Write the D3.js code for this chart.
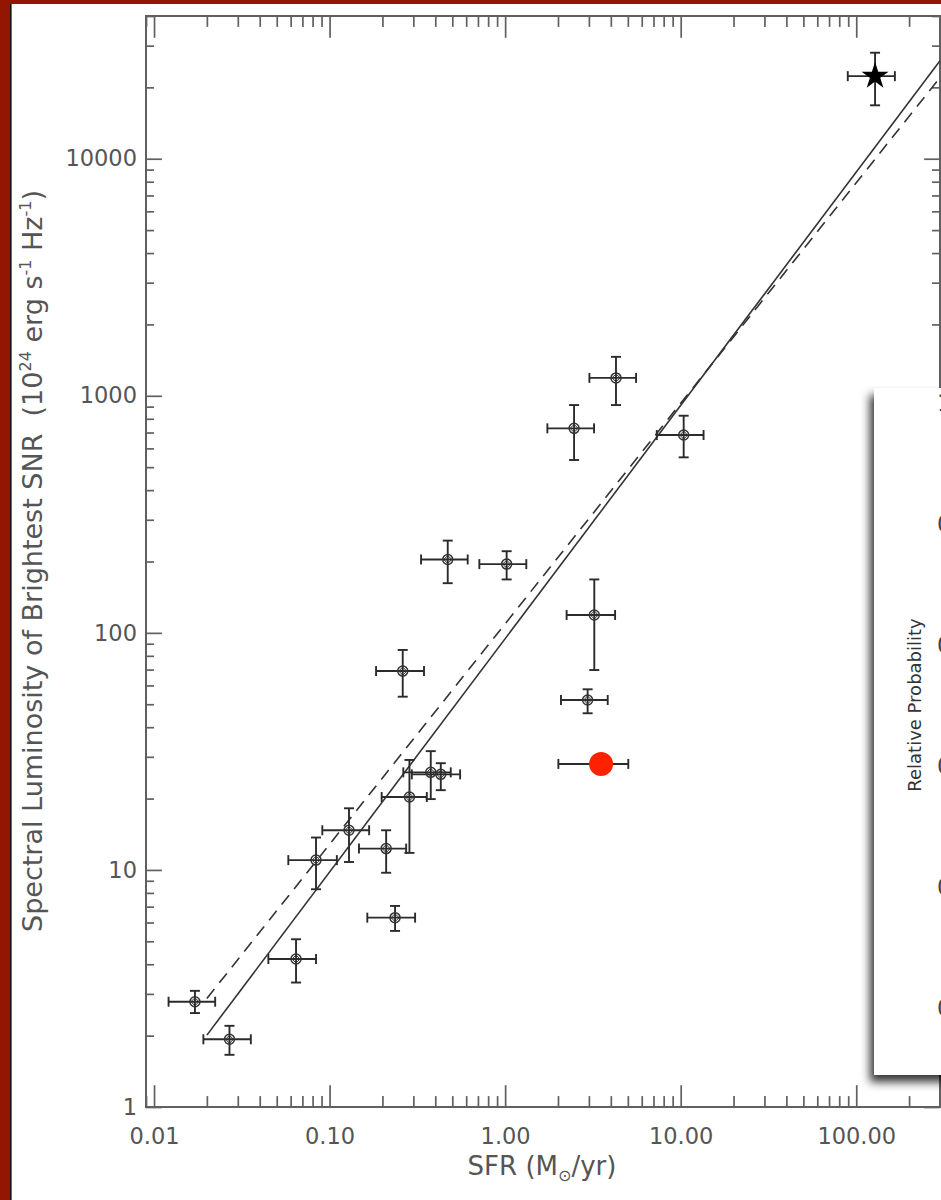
<!DOCTYPE html>
<html>
<head>
<meta charset="utf-8">
<script src="https://cdn.jsdelivr.net/npm/d3@7"></script>
<style>
  html, body { margin: 0; padding: 0; background: #fff; }
  svg { display: block; }
  text { font-family: "DejaVu Sans", sans-serif; }
</style>
</head>
<body>
<svg id="chart" width="941" height="1200"></svg>
<script>
// ---- Galaxies: star formation rate (Msun/yr) and brightest-SNR luminosity (1e24 erg/s/Hz)
const sfr    = [0.0171, 0.0269, 0.0644, 0.236, 0.0837, 0.129, 0.210, 0.285, 0.377, 0.430, 0.261, 0.471, 1.02, 3.22, 2.95, 4.28, 2.47, 10.4];
const sfrLo  = [0.0121, 0.0191, 0.0448, 0.164, 0.0582, 0.0909, 0.147, 0.198, 0.263, 0.294, 0.184, 0.332, 0.713, 2.24, 2.08, 3.02, 1.74, 7.31];
const sfrHi  = [0.0223, 0.0356, 0.0837, 0.307, 0.110, 0.168, 0.273, 0.358, 0.490, 0.554, 0.345, 0.612, 1.32, 4.23, 3.84, 5.57, 3.21, 13.5];
const lum    = [2.78, 1.93, 4.21, 6.29, 11.0, 14.7, 12.3, 20.3, 25.8, 25.3, 69.0, 204, 195, 119, 52.1, 1190, 729, 683];
const lumLo  = [2.49, 1.66, 3.35, 5.53, 8.29, 10.8, 9.73, 11.8, 19.9, 21.7, 53.8, 162, 168, 69.7, 45.8, 914, 536, 550];
const lumHi  = [3.09, 2.20, 5.10, 7.05, 13.7, 18.2, 14.7, 29.1, 31.7, 28.2, 84.7, 245, 221, 168, 57.8, 1460, 914, 824];

// ---- Starburst (star symbol)
const starSfr = [128],   starSfrLo = [89.5], starSfrHi = [166];
const starLum = [22300], starLumLo = [16800], starLumHi = [28000];

// ---- Highlighted galaxy (red disc, SFR error only)
const redSfr = [3.52], redSfrLo = [2.01], redSfrHi = [5.03];
const redLum = [28];

// ---- Power-law fits (end points on log-log axes)
const fitSfr    = [0.02, 300];
const fitLum    = [2.01, 25900];   // solid
const altFitLum = [2.87, 22000];   // dashed

// ---- Axis ticks
const xMajor  = [0.01, 0.1, 1, 10, 100];
const xLabels = ["0.01", "0.10", "1.00", "10.00", "100.00"];
const yMajor  = [1, 10, 100, 1000, 10000];
const yLabels = ["1", "10", "100", "1000", "10000"];

// ---- Inset panel axis labels (partly outside the page)
const insetTicks  = [0.0, 0.2, 0.4, 0.6, 0.8, 1.0];
const insetLabels = ["0.0", "0.2", "0.4", "0.6", "0.8", "1.0"];

const svg = d3.select("#chart");
const W = 941, H = 1200;
const plot = { left: 146, right: 940, top: 16, bottom: 1107 };

const x = d3.scaleLog().domain([0.009, 300]).range([plot.left, plot.right]);
const y = d3.scaleLog().domain([1, 40000]).range([plot.bottom, plot.top]);

// page frame
svg.append("rect").attr("width", W).attr("height", H).attr("fill", "#fff");
svg.append("rect").attr("x", 0).attr("y", 0).attr("width", 10).attr("height", H).attr("fill", "#931600");
svg.append("rect").attr("x", 0).attr("y", 0).attr("width", W).attr("height", 4).attr("fill", "#931600");
svg.append("rect").attr("x", 10).attr("y", 4).attr("width", 1.6).attr("height", H - 4).attr("fill", "#111");

// ---- axes
const axisColor = "#606060";
const labelColor = "#555";
const xMinor = x.ticks().filter(v => !xMajor.some(m => Math.abs(m - v) / m < 1e-6));
const yMinor = y.ticks().filter(v => !yMajor.some(m => Math.abs(m - v) / m < 1e-6));

const xMajLen = 21.8, xMinLen = 10.9, yMajLen = 15.9, yMinLen = 8;

function styleAxis(g) {
  g.select(".domain").remove();
  g.selectAll(".tick line").attr("stroke", axisColor).attr("stroke-width", 1.7);
  g.selectAll(".tick text").attr("fill", labelColor).style("font-size", "22.5px");
}

// bottom
svg.append("g").attr("transform", `translate(0,${plot.bottom})`)
  .call(d3.axisBottom(x).tickValues(xMinor).tickSizeInner(-xMinLen).tickSizeOuter(0).tickFormat(""))
  .call(styleAxis);
svg.append("g").attr("transform", `translate(0,${plot.bottom})`)
  .call(d3.axisBottom(x).tickValues(xMajor).tickSizeInner(-xMajLen).tickSizeOuter(0)
        .tickPadding(21).tickFormat((d, i) => xLabels[i]))
  .call(styleAxis);
// top
svg.append("g").attr("transform", `translate(0,${plot.top})`)
  .call(d3.axisTop(x).tickValues(xMinor).tickSizeInner(-xMinLen).tickSizeOuter(0).tickFormat(""))
  .call(styleAxis);
svg.append("g").attr("transform", `translate(0,${plot.top})`)
  .call(d3.axisTop(x).tickValues(xMajor).tickSizeInner(-xMajLen).tickSizeOuter(0).tickFormat(""))
  .call(styleAxis);
// left
svg.append("g").attr("transform", `translate(${plot.left},0)`)
  .call(d3.axisLeft(y).tickValues(yMinor).tickSizeInner(-yMinLen).tickSizeOuter(0).tickFormat(""))
  .call(styleAxis);
svg.append("g").attr("transform", `translate(${plot.left},0)`)
  .call(d3.axisLeft(y).tickValues(yMajor).tickSizeInner(-yMajLen).tickSizeOuter(0)
        .tickPadding(9).tickFormat((d, i) => yLabels[i]))
  .call(styleAxis);
// right
svg.append("g").attr("transform", `translate(${plot.right},0)`)
  .call(d3.axisRight(y).tickValues(yMinor).tickSizeInner(-yMinLen).tickSizeOuter(0).tickFormat(""))
  .call(styleAxis);
svg.append("g").attr("transform", `translate(${plot.right},0)`)
  .call(d3.axisRight(y).tickValues(yMajor).tickSizeInner(-yMajLen).tickSizeOuter(0).tickFormat(""))
  .call(styleAxis);

// plot box
svg.append("rect")
  .attr("x", plot.left).attr("y", plot.top)
  .attr("width", plot.right - plot.left).attr("height", plot.bottom - plot.top)
  .attr("fill", "none").attr("stroke", axisColor).attr("stroke-width", 2);

// ---- axis titles
svg.append("text")
  .attr("x", 542).attr("y", 1175)
  .attr("text-anchor", "middle").attr("fill", labelColor).style("font-size", "26px")
  .call(t => {
    t.append("tspan").text("SFR (M");
    t.append("tspan").attr("dy", 6).style("font-size", "16px").text("\u2299");
    t.append("tspan").attr("dy", -6).text("/yr)");
  });

svg.append("text")
  .attr("transform", "translate(42,561) rotate(-90)")
  .attr("text-anchor", "middle").attr("fill", labelColor).style("font-size", "27px")
  .attr("xml:space", "preserve")
  .call(t => {
    t.append("tspan").text("Spectral Luminosity of Brightest SNR  (10");
    t.append("tspan").attr("dy", -11).style("font-size", "16px").text("24");
    t.append("tspan").attr("dy", 11).text(" erg s");
    t.append("tspan").attr("dy", -11).style("font-size", "16px").text("-1");
    t.append("tspan").attr("dy", 11).text(" Hz");
    t.append("tspan").attr("dy", -11).style("font-size", "16px").text("-1");
    t.append("tspan").attr("dy", 11).text(")");
  });

// ---- fit lines
const lineGen = d3.line().x(d => x(d[0])).y(d => y(d[1]));
svg.append("path")
  .attr("d", lineGen(fitSfr.map((s, i) => [s, fitLum[i]])))
  .attr("fill", "none").attr("stroke", "#333").attr("stroke-width", 1.6);
svg.append("path")
  .attr("d", lineGen(fitSfr.map((s, i) => [s, altFitLum[i]])))
  .attr("fill", "none").attr("stroke", "#333").attr("stroke-width", 1.6)
  .attr("stroke-dasharray", "12,8");

// ---- error bars
const barColor = "#2b2b2b", cap = 5;
function errorBars(g, xs, xl, xh, ys, yl, yh) {
  xs.forEach((s, i) => {
    const cx = x(s), cy = y(ys[i]);
    const x0 = x(xl[i]), x1 = x(xh[i]);
    g.append("line").attr("x1", x0).attr("x2", x1).attr("y1", cy).attr("y2", cy);
    g.append("line").attr("x1", x0).attr("x2", x0).attr("y1", cy - cap).attr("y2", cy + cap);
    g.append("line").attr("x1", x1).attr("x2", x1).attr("y1", cy - cap).attr("y2", cy + cap);
    if (yl && yh) {
      const y0 = y(yl[i]), y1 = y(yh[i]);
      g.append("line").attr("x1", cx).attr("x2", cx).attr("y1", y0).attr("y2", y1);
      g.append("line").attr("x1", cx - cap).attr("x2", cx + cap).attr("y1", y0).attr("y2", y0);
      g.append("line").attr("x1", cx - cap).attr("x2", cx + cap).attr("y1", y1).attr("y2", y1);
    }
  });
}
const eb = svg.append("g").attr("stroke", barColor).attr("stroke-width", 1.9);
errorBars(eb, sfr, sfrLo, sfrHi, lum, lumLo, lumHi);
errorBars(eb, starSfr, starSfrLo, starSfrHi, starLum, starLumLo, starLumHi);
errorBars(eb, redSfr, redSfrLo, redSfrHi, redLum, null, null);

// ---- galaxy markers: open circle with inner diamond
const mk = svg.append("g").attr("fill", "none").attr("stroke", "#333").attr("stroke-width", 1.5);
sfr.forEach((s, i) => {
  const cx = x(s), cy = y(lum[i]);
  mk.append("circle").attr("cx", cx).attr("cy", cy).attr("r", 5);
  mk.append("path").attr("d", `M${cx},${cy - 4}L${cx + 4},${cy}L${cx},${cy + 4}L${cx - 4},${cy}Z`)
    .attr("stroke-width", 1);
});

// starburst star
svg.append("path")
  .attr("d", d3.symbol().type(d3.symbolStar).size(226)())
  .attr("transform", `translate(${x(starSfr[0])},${y(starLum[0])})`)
  .attr("fill", "#000");

// highlighted galaxy
svg.append("circle")
  .attr("cx", x(redSfr[0])).attr("cy", y(redLum[0])).attr("r", 12)
  .attr("fill", "#ff2200");

// ---- inset panel overlapping the right edge
const defs = svg.append("defs");
const f = defs.append("filter").attr("id", "panelShadow")
  .attr("x", "-20%").attr("y", "-10%").attr("width", "140%").attr("height", "130%");
f.append("feDropShadow").attr("dx", -4).attr("dy", 7).attr("stdDeviation", 5)
  .attr("flood-color", "#000").attr("flood-opacity", 0.8);

const inset = svg.append("g");
inset.append("rect")
  .attr("x", 874).attr("y", 388).attr("width", 140).attr("height", 687)
  .attr("fill", "#fff").attr("filter", "url(#panelShadow)");

inset.append("text")
  .attr("transform", "translate(915,705) rotate(-90)")
  .attr("text-anchor", "middle").attr("dy", "0.35em")
  .attr("fill", "#333").style("font-size", "18px")
  .text("Relative Probability");

const iy = d3.scaleLinear().domain([0, 1]).range([1008, 403]);
inset.selectAll("text.itick").data(insetTicks).join("text")
  .attr("class", "itick")
  .attr("x", 937).attr("y", d => iy(d)).attr("dy", "0.35em")
  .attr("fill", "#444").style("font-size", "22.5px")
  .text((d, i) => insetLabels[i]);
</script>
</body>
</html>
